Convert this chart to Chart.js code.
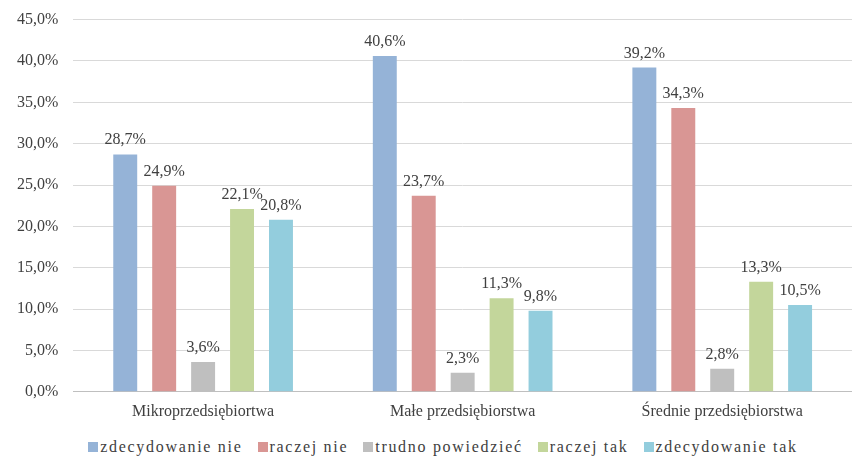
<!DOCTYPE html>
<html>
<head>
<meta charset="utf-8">
<script src="https://cdn.jsdelivr.net/npm/chart.js@4"></script>
<style>
  html, body { margin: 0; padding: 0; background: #fff; }
  #wrap { position: relative; width: 852px; height: 457px; overflow: hidden; }
  #chart { position: absolute; left: 0; top: -5px; }
  #legend {
    position: absolute; left: 0; top: 436px; width: 852px;
    display: flex; justify-content: center; gap: 15px;
    padding-left: 34px; box-sizing: border-box;
    font-family: 'Liberation Serif', serif; font-size: 16px; letter-spacing: 1.7px;
    color: #404040; line-height: 22px;
  }
  #legend span.item { display: flex; align-items: center; white-space: nowrap; }
  #legend span.box { width: 10px; height: 10px; margin-right: 2px; display: inline-block; }
</style>
</head>
<body>
<div id="wrap">
  <canvas id="chart" width="852" height="436"></canvas>
  <div id="legend"></div>
</div>
<script>
const categories = ["Mikroprzedsiębiortwa", "Małe przedsiębiorstwa", "Średnie przedsiębiorstwa"];
const seriesNames = ["zdecydowanie nie", "raczej nie", "trudno powiedzieć", "raczej tak", "zdecydowanie tak"];
const zdecydowanieNie = [28.7, 40.6, 39.2];
const raczejNie = [24.9, 23.7, 34.3];
const trudnoPowiedziec = [3.6, 2.3, 2.8];
const raczejTak = [22.1, 11.3, 13.3];
const zdecydowanieTak = [20.8, 9.8, 10.5];
const colors = ["#95b3d7", "#d99694", "#bfbfbf", "#c3d69b", "#93cddd"];

const fmt = v => v.toFixed(1).replace(".", ",") + "%";
const font = "'Liberation Serif', serif";
Chart.defaults.font.family = font;
Chart.defaults.color = "#404040";

const valueLabels = {
  id: "valueLabels",
  afterDatasetsDraw(chart) {
    const ctx = chart.ctx;
    ctx.save();
    ctx.font = "16px " + font;
    ctx.fillStyle = "#404040";
    ctx.textAlign = "center";
    ctx.textBaseline = "alphabetic";
    chart.data.datasets.forEach((ds, i) => {
      chart.getDatasetMeta(i).data.forEach((bar, j) => {
        ctx.fillText(fmt(ds.data[j]), bar.x, bar.y - 10);
      });
    });
    ctx.restore();
  }
};

const all = [zdecydowanieNie, raczejNie, trudnoPowiedziec, raczejTak, zdecydowanieTak];

const chart = new Chart(document.getElementById("chart"), {
  type: "bar",
  data: {
    labels: categories,
    datasets: all.map((d, i) => ({
      label: seriesNames[i],
      data: d,
      backgroundColor: colors[i],
      categoryPercentage: 0.75,
      barPercentage: 0.615
    }))
  },
  options: {
    responsive: false,
    animation: false,
    layout: { padding: { top: 0, right: 0, left: 2, bottom: 0 } },
    plugins: {
      legend: { display: false },
      tooltip: { enabled: false }
    },
    scales: {
      x: {
        grid: { display: false, drawTicks: false },
        border: { color: "#bfbfbf" },
        ticks: { color: "#404040", font: { family: font, size: 16 }, padding: 10 }
      },
      y: {
        min: 0,
        max: 45,
        ticks: {
          stepSize: 5,
          color: "#404040",
          font: { family: font, size: 16 },
          callback: v => fmt(v),
          padding: 15
        },
        border: { display: false },
        grid: { color: "#d9d9d9", drawTicks: false }
      }
    }
  },
  plugins: [valueLabels]
});

const legend = document.getElementById("legend");
chart.data.datasets.forEach(ds => {
  const item = document.createElement("span");
  item.className = "item";
  const box = document.createElement("span");
  box.className = "box";
  box.style.background = ds.backgroundColor;
  item.appendChild(box);
  item.appendChild(document.createTextNode(ds.label));
  legend.appendChild(item);
});
</script>
</body>
</html>
